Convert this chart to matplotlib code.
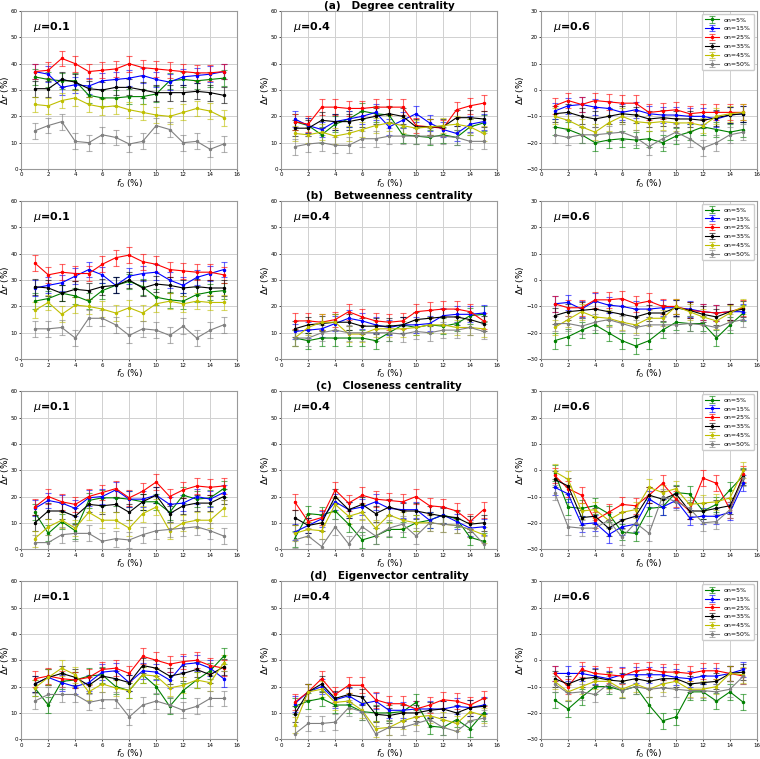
import matplotlib.pyplot as plt

f0 = list(range(1, 16))
on_labels = ["on=5%", "on=15%", "on=25%", "on=35%", "on=45%", "on=50%"]
colors = ["g", "b", "r", "k", "y", "gray"]
mus = ["0.1", "0.4", "0.6"]
titles = ["(a)   Degree centrality", "(b)   Betweenness centrality",
          "(c)   Closeness centrality", "(d)   Eigenvector centrality"]
err = 3.0

# each panel: series in the order green, blue, red, black, yellow, gray
deg_01 = [
    [35, 34, 33.5, 33.5, 28, 27, 27, 27.5, 27.5, 28.5, 33.5, 34, 33.5, 34, 34.5],
    [37, 36, 31, 32, 31.5, 33.5, 34, 34.5, 35.5, 34, 33, 35, 35.5, 36, 37],
    [37, 37.5, 42, 40, 37, 37.5, 38, 40, 38.5, 38, 37.5, 37, 36.5, 36.5, 37],
    [30.5, 30.5, 34, 33, 30.5, 30, 31, 31, 30, 29, 29, 29, 29.5, 29, 28],
    [24.5, 24, 26, 27, 24.5, 23.5, 24, 22.5, 21.5, 20.5, 20, 21.5, 23, 22, 19.5],
    [14.5, 16.5, 18, 10.5, 10, 13, 12, 9.5, 10.5, 16.5, 15, 10, 10.5, 7.5, 9.5],
]
deg_04 = [
    [18, 16.5, 13, 17, 19, 22, 21, 20.5, 13, 12.5, 12, 13, 12, 16, 17.5],
    [19, 16.5, 15, 18, 19, 20, 21.5, 16, 18.5, 21, 17.5, 15, 13.5, 17, 18],
    [18, 17, 23.5, 23.5, 23, 23, 23.5, 23.5, 23.5, 16.5, 16, 15.5, 22.5, 24, 25],
    [15.5, 15.5, 18.5, 18, 18, 19, 20, 21, 20, 16, 16, 16, 19.5, 19.5, 19],
    [13.5, 13, 14, 12.5, 13.5, 15, 16.5, 17.5, 16.5, 15.5, 16, 16.5, 17, 16, 13.5],
    [8.5, 9.5, 10, 9, 9, 11.5, 11.5, 12.5, 12.5, 12.5, 12.5, 12.5, 12, 10.5, 10.5],
]
deg_06 = [
    [-14, -15, -17, -20, -19, -18.5, -19, -18.5, -20, -17.5, -16, -14, -15, -16, -15],
    [-8, -6, -5.5, -6.5, -7, -8.5, -7.5, -9, -9.5, -9.5, -10, -10, -11, -9.5, -9],
    [-6, -4, -5.5, -4, -4.5, -5, -5, -8.5, -8, -7.5, -9, -8.5, -8.5, -8.5, -8.5],
    [-9, -8.5, -10, -11, -10, -9, -9.5, -11, -10.5, -11, -11, -11.5, -10.5, -9.5, -9],
    [-10, -11.5, -14, -16, -12.5, -10, -12, -12.5, -12, -12.5, -12.5, -13.5, -10, -9, -8.5],
    [-17, -18, -17, -17, -16.5, -16, -18, -21.5, -18.5, -16, -18.5, -22, -20, -17, -16],
]
bet_01 = [
    [22, 23, 25, 24, 22, 26, 28, 29.5, 27.5, 23.5, 22.5, 22, 24.5, 25.5, 26],
    [27, 28, 29, 31.5, 34, 32, 28, 31.5, 32.5, 33, 30, 28, 31, 32.5, 34],
    [36.5, 32, 33, 32.5, 32.5, 36, 38.5, 39.5, 37, 36, 34, 33.5, 33, 33, 32],
    [27.5, 27, 25, 26.5, 26, 27.5, 28, 30, 27, 28.5, 28, 27, 27.5, 27, 27],
    [18.5, 21.5, 17, 20.5, 20, 19, 17.5, 19.5, 17.5, 21, 22, 21, 22, 21.5, 21.5],
    [11.5, 11.5, 12, 8, 15.5, 15.5, 13, 9, 11.5, 11, 9, 12.5, 8, 11, 13],
]
bet_04 = [
    [8, 7, 8, 8, 8, 8, 7, 10, 13, 12, 13, 12.5, 13.5, 16.5, 17],
    [10.5, 11, 11.5, 13.5, 15.5, 14.5, 13, 12, 13, 13, 13.5, 16.5, 17, 17, 17.5],
    [14.5, 14.5, 14, 15, 18, 16, 14.5, 14, 14.5, 18, 18.5, 19, 19, 18, 14.5],
    [11.5, 13, 13.5, 14, 14, 12.5, 12.5, 12.5, 13, 15, 15.5, 16, 16, 15, 13.5],
    [8, 12, 14, 14, 9.5, 9.5, 11.5, 11.5, 11.5, 12, 13, 13, 12, 12, 11.5],
    [8, 8, 10, 11, 10, 10, 10, 10, 9.5, 10.5, 10, 11, 11, 12, 10.5],
]
bet_06 = [
    [-23, -21.5, -19, -17, -20, -23, -25, -23, -19, -16, -16.5, -16.5, -22, -17, -12.5],
    [-9, -8.5, -11, -8, -9.5, -10, -11, -11, -10.5, -10.5, -11, -12, -12.5, -12, -12],
    [-9, -10.5, -10.5, -7.5, -7.5, -7, -9, -8, -10, -10, -11.5, -12, -12.5, -12, -10.5],
    [-13.5, -12, -11.5, -11, -12, -13, -14, -12.5, -12.5, -10.5, -11.5, -13, -14, -12, -11],
    [-18, -15, -12, -14, -14.5, -16, -17, -14.5, -14.5, -10, -12, -14, -15.5, -12.5, -10],
    [-16.5, -16.5, -17.5, -16, -15, -16.5, -18, -17, -17, -17, -16.5, -17, -18, -16, -15],
]
clo_01 = [
    [14, 6, 10.5, 7, 18.5, 19.5, 19.5, 19, 18, 18, 14, 20.5, 19, 19.5, 23],
    [15.5, 18.5, 17.5, 15.5, 19.5, 20, 22.5, 19, 19, 20.5, 17, 17.5, 20, 19, 21.5],
    [16, 20, 18, 17, 20, 21.5, 23, 19.5, 22, 25.5, 20, 22.5, 24, 23.5, 24],
    [10, 14.5, 14.5, 12.5, 17, 16.5, 17, 14, 18, 20.5, 13.5, 16.5, 17.5, 17.5, 20],
    [4, 8.5, 11, 8, 14, 11, 11, 8, 13.5, 16, 7, 10, 11, 11, 15.5],
    [2.5, 2.5, 5.5, 6, 6, 3, 4, 3.5, 5.5, 7, 7.5, 8, 8.5, 7, 5],
]
clo_04 = [
    [4, 13.5, 13, 14.5, 9.5, 3.5, 5, 7.5, 7.5, 10, 11, 13, 11.5, 4.5, 3],
    [6.5, 9, 11.5, 18, 15, 16, 18, 15.5, 15, 15, 11, 13, 10.5, 8, 8.5],
    [18, 10.5, 12, 22.5, 17.5, 20.5, 19, 18.5, 18, 20, 16.5, 16, 14.5, 10.5, 15],
    [12, 9, 10, 20, 15, 17, 13.5, 16, 14.5, 14.5, 13.5, 12.5, 12, 9.5, 10],
    [6, 7.5, 7, 17, 12.5, 14, 8, 13, 11, 10, 10, 9.5, 9, 7.5, 5.5],
    [3.5, 5, 1, 8.5, 2, 8.5, 5, 8, 9.5, 5, 10, 9.5, 9, 7.5, 2],
]
clo_06 = [
    [-1, -14, -14.5, -13.5, -16.5, -23.5, -24, -14.5, -14, -8.5, -9, -15.5, -13, -7.5, -2],
    [-6.5, -9, -20.5, -20, -24.5, -21.5, -20.5, -11, -14, -11.5, -18, -17.5, -17.5, -16, -5],
    [-2, -7, -9.5, -19, -16, -13, -13.5, -9.5, -5, -11, -15.5, -3, -5, -15, -1.5],
    [-3.5, -6, -18, -17.5, -22, -19, -17.5, -9.5, -11, -9, -15.5, -15.5, -14.5, -13.5, -2.5],
    [-0.5, -3.5, -15.5, -15, -19, -16, -15, -6.5, -8.5, -7, -13, -12.5, -12, -10.5, 0],
    [-8.5, -21.5, -22, -22, -19, -25.5, -20, -24, -10, -12, -14.5, -20, -19.5, -15, -3],
]
eig_01 = [
    [19.5, 13, 22, 22.5, 24, 24.5, 20, 18.5, 24.5, 20, 12.5, 18.5, 22.5, 26, 31.5],
    [21, 23.5, 21.5, 20, 21.5, 25.5, 26, 21.5, 26, 25.5, 22.5, 28.5, 29, 27, 23],
    [23, 24, 23, 22.5, 23.5, 26.5, 27, 25, 31.5, 30, 28.5, 29.5, 30, 28, 27],
    [21, 23.5, 25, 23.5, 20.5, 24, 23, 21.5, 28, 27, 24, 25, 26.5, 24.5, 27.5],
    [19.5, 23.5, 27, 24.5, 18, 21, 19.5, 18.5, 24.5, 24, 19.5, 20.5, 22.5, 21.5, 29],
    [14.5, 17, 17, 17, 14, 15, 15, 8.5, 13, 14.5, 13, 11, 12.5, 15.5, 15.5],
]
eig_04 = [
    [12.5, 14.5, 15.5, 13, 13, 10.5, 10, 10, 10.5, 14, 5, 4.5, 7.5, 4, 10],
    [13.5, 18, 20, 15, 16.5, 13.5, 14.5, 11, 11, 11.5, 11.5, 11.5, 12.5, 12, 13],
    [14, 18, 23, 17, 20.5, 20.5, 15, 13.5, 13.5, 11.5, 13, 15, 14.5, 13, 15.5],
    [9.5, 18, 21, 15.5, 17, 16, 9.5, 9, 10, 10, 11, 11.5, 10, 12, 12.5],
    [5.5, 18, 19, 14, 14.5, 11, 4, 4.5, 7, 8.5, 9, 7.5, 6, 10.5, 9],
    [2, 6, 6, 6.5, 12, 10.5, 2, 4.5, 4.5, 6, 7.5, 4.5, 3, 7, 8],
]
eig_06 = [
    [-15, -18.5, -14, -10, -10, -11.5, -10, -17, -23, -21.5, -12, -12, -15.5, -12, -16],
    [-5, -5, -5, -6, -7, -5.5, -5.5, -5.5, -5.5, -6.5, -7, -6, -6, -5, -3.5],
    [-5, -10, -3.5, -5, -5.5, -6, -4, -3.5, -4.5, -4.5, -5, -4, -4, -5, -6],
    [-7, -9, -7, -6.5, -7.5, -8, -7, -8, -7, -7, -9, -8.5, -8, -5, -4.5],
    [-8, -12, -10, -8, -8, -11, -9, -11, -9, -8, -11, -11, -10, -5, -5.5],
    [-9, -12.5, -12, -13, -9, -11.5, -10, -11, -10.5, -11, -11.5, -11.5, -12, -11, -6],
]

panels = [[deg_01, deg_04, deg_06],
          [bet_01, bet_04, bet_06],
          [clo_01, clo_04, clo_06],
          [eig_01, eig_04, eig_06]]

fig, axes = plt.subplots(4, 3, figsize=(7.6, 7.59), dpi=100)
fig.subplots_adjust(left=0.028, right=0.996, top=0.9855, bottom=0.026,
                    wspace=0.204, hspace=0.203)

for r in range(4):
    for c in range(3):
        ax = axes[r, c]
        for s in range(6):
            eb = ax.errorbar(f0, panels[r][c][s], yerr=err, color=colors[s],
                             marker='.', markersize=3, linewidth=0.8,
                             elinewidth=0.8, capsize=2.5, capthick=0.8,
                             label=on_labels[s])
            for line in eb[1]:
                line.set_alpha(0.6)
            for line in eb[2]:
                line.set_alpha(0.6)
        ax.set_xlim(0, 16)
        ax.set_xticks(range(0, 17, 2))
        if c == 2:
            ax.set_ylim(-30, 30)
            ax.set_yticks(range(-30, 31, 10))
        else:
            ax.set_ylim(0, 60)
            ax.set_yticks(range(0, 61, 10))
        ax.tick_params(labelsize=4, length=1.5, width=0.5, pad=1)
        ax.grid(True, color='#d0d0d0', linewidth=0.7)
        for sp in ax.spines.values():
            sp.set_color('#999999')
            sp.set_linewidth(0.8)
        ax.set_xlabel("$f_0$ (%)", fontsize=6.5, labelpad=0)
        ax.set_ylabel(r"$\Delta r$ (%)", fontsize=6.5, labelpad=0)
        ax.text(0.055, 0.9, r"$\mu$=" + mus[c], transform=ax.transAxes,
                fontsize=8, fontweight='bold', va='center')
        if c == 1:
            ax.set_title(titles[r], fontsize=7.5, fontweight='bold', pad=1)
        if c == 2:
            ax.legend(loc='upper right', fontsize=4.5, handlelength=2.2,
                      borderpad=0.5, labelspacing=0.55, framealpha=1)

fig.savefig("out.png", dpi=100)
